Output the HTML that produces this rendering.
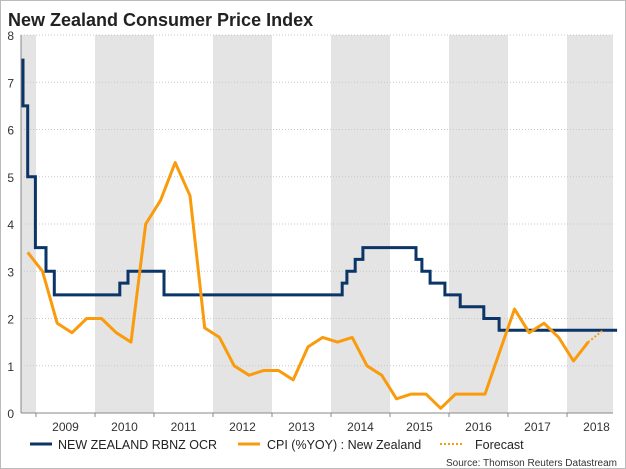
<!DOCTYPE html>
<html><head><meta charset="utf-8"><style>
body{margin:0;background:#fff;}
svg{display:block;font-family:"Liberation Sans",Arial,sans-serif;}
</style></head><body>
<svg id="c" width="626" height="469">
<rect x="0.5" y="0.5" width="625" height="468" fill="#fff" stroke="#bbb"/>
<text x="8" y="26" font-size="18" font-weight="bold" fill="#222">New Zealand Consumer Price Index</text>
<g id="bands"></g><g id="grid"></g><g id="axes"></g><g id="series"></g>
<g>
<line x1="30" y1="444" x2="52" y2="444" stroke="#0b3566" stroke-width="3"/>
<text x="58" y="449" font-size="12.5" fill="#222">NEW ZEALAND RBNZ OCR</text>
<line x1="238" y1="444" x2="260" y2="444" stroke="#f99b0c" stroke-width="3"/>
<text x="267" y="449" font-size="12.5" fill="#222">CPI (%YOY) : New Zealand</text>
<line x1="440" y1="444" x2="462" y2="444" stroke="#f99b0c" stroke-width="2" stroke-dasharray="2,2"/>
<text x="475" y="449" font-size="12.5" fill="#222">Forecast</text>
</g>
<text x="617" y="466" font-size="10" fill="#333" text-anchor="end">Source: Thomson Reuters Datastream</text>
</svg>
<script>
const years=[2009,2010,2011,2012,2013,2014,2015,2016,2017,2018];
const yTicks=[0,1,2,3,4,5,6,7,8];
const cpiStart=2008.86;
const cpiValues=[3.4,3.0,1.9,1.7,2.0,2.0,1.7,1.5,4.0,4.5,5.3,4.6,1.8,1.6,1.0,0.8,0.9,0.9,0.7,1.4,1.6,1.5,1.6,1.0,0.8,0.3,0.4,0.4,0.1,0.4,0.4,0.4,1.3,2.2,1.7,1.9,1.6,1.1,1.5];
const forecastValues=[1.5,1.75];
const ocrDates=[2008.78,2008.78,2008.86,2008.99,2009.17,2009.31,2010.42,2010.56,2011.17,2014.19,2014.27,2014.41,2014.54,2015.44,2015.54,2015.68,2015.93,2016.19,2016.59,2016.85];
const ocrValues=[7.5,6.5,5.0,3.5,3.0,2.5,2.75,3.0,2.5,2.75,3.0,3.25,3.5,3.25,3.0,2.75,2.5,2.25,2.0,1.75];
const ocrEnd=2018.85;

const L=21,R=613,T=35,B=413;
const xs=t=>36+(t-2009)*59;
const ys=v=>B-v*(B-T)/8;
const NS="http://www.w3.org/2000/svg";
function mk(p,tag,a){const e=document.createElementNS(NS,tag);for(const k in a)e.setAttribute(k,a[k]);document.getElementById(p).appendChild(e);return e;}

const b0=mk('bands','rect',{x:L,y:T,width:xs(2009)-L,height:B-T,fill:'#e4e4e4'});


years.forEach((y,i)=>{
  if(i%2===1){const r=mk('bands','rect',{x:xs(y),y:T,width:Math.min(xs(y+1),R)-xs(y),height:B-T,fill:'#e4e4e4'});
  
  }
});
yTicks.forEach(v=>{
  if(v>0){const g=mk('grid','line',{x1:L,x2:R,y1:ys(v),y2:ys(v),stroke:'#c8c8c8','stroke-dasharray':'1,2'});
  
  }
  const t=mk('axes','text',{x:14,y:ys(v)+5,'font-size':12,fill:'#333','text-anchor':'end'});t.textContent=v;
  
  
});
mk('axes','line',{x1:L,x2:L,y1:T,y2:B,stroke:'#888'});
mk('axes','line',{x1:L,x2:R,y1:B,y2:B,stroke:'#888'});
years.forEach(y=>{
  mk('axes','line',{x1:xs(y),x2:xs(y),y1:B,y2:B+4,stroke:'#888'});
  const t=mk('axes','text',{x:xs(y)+29.5,y:B+18,'font-size':12,fill:'#333','text-anchor':'middle'});t.textContent=y;
  
  
});
let d='';
ocrDates.forEach((t,i)=>{const x=xs(t),y=ys(ocrValues[i]);d+=(i===0?'M':'H')+x.toFixed(1)+(i===0?' '+y.toFixed(1):'V'+y.toFixed(1));});
d+='H'+xs(ocrEnd).toFixed(1);
const o=mk('series','path',{d:d,fill:'none',stroke:'#0b3566','stroke-width':3});


const cp=cpiValues.map((v,i)=>xs(cpiStart+i*0.25).toFixed(1)+','+ys(v).toFixed(1)).join(' ');
const c=mk('series','polyline',{points:cp,fill:'none',stroke:'#f99b0c','stroke-width':3,'stroke-linejoin':'round'});


const f0=cpiValues.length-1;
const fp=forecastValues.map((v,i)=>xs(cpiStart+(f0+i)*0.25).toFixed(1)+','+ys(v).toFixed(1)).join(' ');
const f=mk('series','polyline',{points:fp,fill:'none',stroke:'#f99b0c','stroke-width':2,'stroke-dasharray':'2,2'});


</script>
</body></html>
